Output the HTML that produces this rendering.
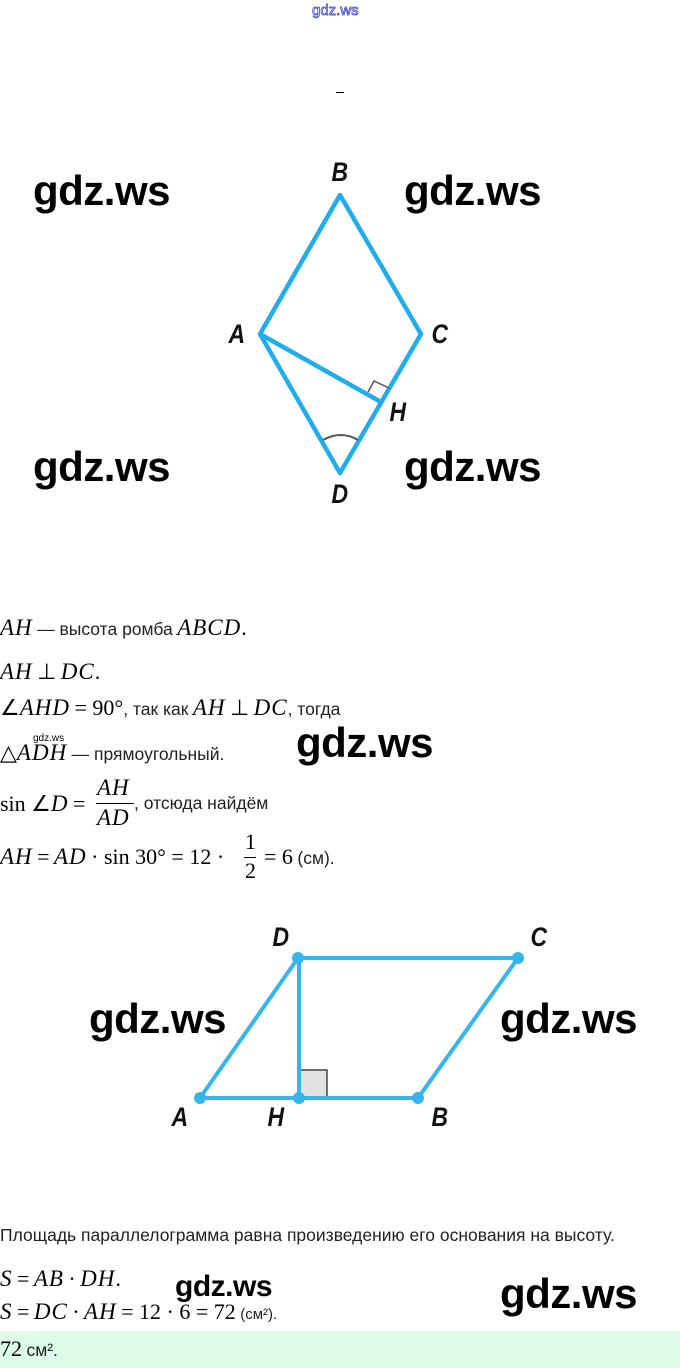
<!DOCTYPE html>
<html><head><meta charset="utf-8"><style>
body{margin:0;width:680px;height:1368px;background:#fff;position:relative;overflow:hidden;font-family:"Liberation Sans",sans-serif}
.a{position:absolute;white-space:nowrap}
.wm{position:absolute;font-family:"Liberation Sans",sans-serif;font-size:42px;font-weight:bold;color:#000;line-height:1;letter-spacing:-0.5px}
.m{font-family:"Liberation Serif",serif;font-style:italic;font-size:23px;letter-spacing:1px}
.r{font-family:"Liberation Serif",serif;font-size:22px}
.t{font-size:17.5px;color:#222}
.lb{position:absolute;font-family:"Liberation Sans",sans-serif;font-style:italic;font-weight:bold;font-size:27px;color:#111;transform:scaleX(0.85)}
</style></head><body>
<div class="a" style="left:312px;top:2px;font-size:15px;color:transparent;-webkit-text-stroke:0.7px #3030d0">gdz.ws</div>
<div class="a" style="left:336px;top:92px;width:8px;height:1px;background:#000"></div>

<svg class="a" style="left:0;top:0" width="680" height="1368">
<g fill="none" stroke="#1fadeb" stroke-width="4.5" stroke-linejoin="round">
<polygon points="340,195 421,334 340,473 260,334"/>
<line x1="260" y1="334" x2="381" y2="402"/>
</g>
<polyline points="368,392 374,381 389,388" fill="none" stroke="#555" stroke-width="1.5"/>
<path d="M323,440 Q341,430 358,440" fill="none" stroke="#555" stroke-width="2"/>
<rect x="300" y="1070" width="27" height="27" fill="#e2e2e2" stroke="#444" stroke-width="1.5"/>
<g fill="none" stroke="#35b6ea" stroke-width="4">
<polygon points="298,958 518,958 418,1098 200,1098"/>
<line x1="299" y1="958" x2="299" y2="1098"/>
</g>
<g fill="#35b6ea"><circle cx="298" cy="958" r="6"/><circle cx="518" cy="958" r="6"/><circle cx="418" cy="1098" r="6"/><circle cx="200" cy="1098" r="6"/><circle cx="299" cy="1098" r="6"/></g>
</svg>

<div class="lb" style="left:330px;top:157px">B</div>
<div class="lb" style="left:227px;top:319px">A</div>
<div class="lb" style="left:430px;top:319px">C</div>
<div class="lb" style="left:388px;top:397px">H</div>
<div class="lb" style="left:330px;top:479px">D</div>
<div class="lb" style="left:271px;top:922px">D</div>
<div class="lb" style="left:529px;top:922px">C</div>
<div class="lb" style="left:170px;top:1102px">A</div>
<div class="lb" style="left:266px;top:1102px">H</div>
<div class="lb" style="left:430px;top:1102px">B</div>

<div class="wm" style="left:33px;top:170px">gdz.ws</div>
<div class="wm" style="left:404px;top:170px">gdz.ws</div>
<div class="wm" style="left:33px;top:446px">gdz.ws</div>
<div class="wm" style="left:404px;top:446px">gdz.ws</div>
<div class="wm" style="left:296px;top:722px">gdz.ws</div>
<div class="wm" style="left:89px;top:998px">gdz.ws</div>
<div class="wm" style="left:500px;top:998px">gdz.ws</div>
<div class="wm" style="left:500px;top:1273px">gdz.ws</div>
<div class="wm" style="left:175px;top:1272px;font-size:30px">gdz.ws</div>
<div class="a" style="left:33px;top:733px;font-size:10px">gdz.ws</div>

<div class="a" style="left:0;top:615px"><span class="m">AH</span> <span class="t">— высота ромба</span> <span class="m">ABCD</span><span class="r">.</span></div>
<div class="a" style="left:0;top:659px"><span class="m">AH</span> <span class="r">⊥</span> <span class="m">DC</span><span class="r">.</span></div>
<div class="a" style="left:0;top:695px"><span class="r">∠</span><span class="m">AHD</span> <span class="r">= 90°</span><span class="t">, так как</span> <span class="m">AH</span> <span class="r">⊥</span> <span class="m">DC</span><span class="t">, тогда</span></div>
<div class="a" style="left:0;top:740px"><span class="r">△</span><span class="m">ADH</span> <span class="t">— прямоугольный.</span></div>
<div class="a" style="left:0;top:791px"><span class="r">sin ∠</span><span class="m">D</span> <span class="r">=</span></div>
<div class="a m" style="left:97px;top:775px">AH</div>
<div class="a" style="left:96px;top:803px;width:38px;height:1px;background:#000"></div>
<div class="a m" style="left:97px;top:805px">AD</div>
<div class="a" style="left:134px;top:793px"><span class="t">, отсюда найдём</span></div>
<div class="a" style="left:0;top:844px"><span class="m">AH</span> <span class="r">=</span> <span class="m">AD</span> <span class="r">· sin 30° = 12 ·</span></div>
<div class="a r" style="left:245px;top:829px">1</div>
<div class="a" style="left:244px;top:857px;width:12px;height:1px;background:#000"></div>
<div class="a r" style="left:245px;top:858px">2</div>
<div class="a" style="left:264px;top:844px"><span class="r">= 6</span> <span class="t">(см).</span></div>

<div class="a t" style="left:0;top:1225px">Площадь параллелограмма равна произведению его основания на высоту.</div>
<div class="a" style="left:0;top:1266px"><span class="m">S</span> <span class="r">=</span> <span class="m">AB</span> <span class="r">·</span> <span class="m">DH</span><span class="r">.</span></div>
<div class="a" style="left:0;top:1299px"><span class="m">S</span> <span class="r">=</span> <span class="m">DC</span> <span class="r">·</span> <span class="m">AH</span> <span class="r">= 12 · 6 = 72</span> <span class="t" style="font-size:15px">(см²).</span></div>
<div class="a" style="left:0;top:1331px;width:680px;height:37px;background:#dcfce9"></div>
<div class="a" style="left:0;top:1336px"><span class="r">72</span> <span class="t">см².</span></div>
</body></html>
